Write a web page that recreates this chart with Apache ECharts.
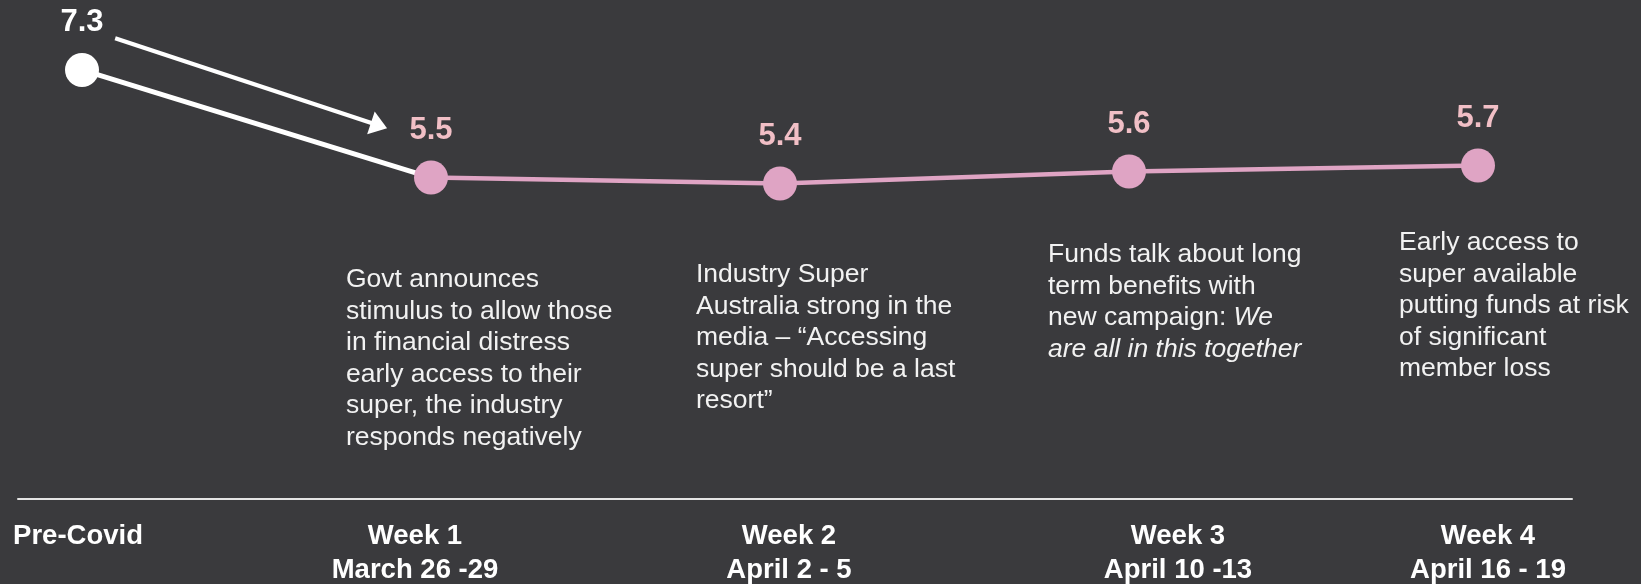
<!DOCTYPE html>
<html><head><meta charset="utf-8">
<script src="https://cdn.jsdelivr.net/npm/echarts@6/dist/echarts.min.js"></script>
<style>html,body{margin:0;padding:0;background:#3a3a3d}#c{width:1641px;height:584px}</style>
</head><body><div id="c"></div>
<script>
// ---------- data ----------
const categories = ['Pre-Covid', 'Week 1', 'Week 2', 'Week 3', 'Week 4'];
const dateRanges = ['', 'March 26 -29', 'April 2 - 5', 'April 10 -13', 'April 16 - 19'];
const scores = [7.3, 5.5, 5.4, 5.6, 5.7];
const notes = [
  '',
  'Govt announces\nstimulus to allow those\nin financial distress\nearly access to their\nsuper, the industry\nresponds negatively',
  'Industry Super\nAustralia strong in the\nmedia \u2013 \u201cAccessing\nsuper should be a last\nresort\u201d',
  'Funds talk about long\nterm benefits with\nnew campaign: {i|We}\n{i|are all in this together}',
  'Early access to\nsuper available\nputting funds at risk\nof significant\nmember loss'
];

// ---------- styles / layout ----------
const BG = '#3a3a3d';
const PINK = '#dfa4c4';
const PINK_LABEL = '#f1bfc6';
const WHITE = '#ffffff';
const FONT = 'Liberation Sans, Arial, sans-serif';
const labelNudge = [-4, -16, 9, 49, 10];   // horizontal shift of axis labels
const noteDx = [0, -85, -84, -81, -79];     // note left edge relative to its point
const noteTop = [0, 264, 259, 239, 227];
const NOTE_LH = 31.5;
const NOTE_FS = 26.5;
const arrowFrom = [0.095, 7.83];            // annotation arrow, in data space
const arrowTo = [0.851, 6.37];

const baseData = scores.map((v, i) => {
  if (i === 0) return { value: v };
  if (i === 1) return { value: v, symbol: 'none', label: { show: false } };
  return '-';
});
const weekData = scores.map((v, i) => (i >= 1 ? v : '-'));

const rich = {};
categories.forEach((c, i) => {
  const d = labelNudge[i];
  rich['n' + i] = {
    fontFamily: FONT, fontSize: 27.5, fontWeight: 'bold', color: WHITE, lineHeight: 34,
    padding: [0, d < 0 ? -2 * d : 0, 0, d > 0 ? 2 * d : 0]
  };
});

const chart = echarts.init(document.getElementById('c'), null, { renderer: 'canvas' });
chart.setOption({
  backgroundColor: BG,
  animation: false,
  grid: [
    { left: 82, right: 163, top: 28.1, bottom: 376.6 },
    { left: 18, right: 69, top: 490, bottom: 85 }
  ],
  xAxis: [
    {
      type: 'category', gridIndex: 0, data: categories, boundaryGap: false,
      offset: 291.6,
      axisLine: { show: false }, axisTick: { show: false }, splitLine: { show: false },
      axisLabel: {
        interval: 0, margin: 20,
        formatter: (v, i) => {
          const k = 'n' + i;
          return dateRanges[i] ? `{${k}|${v}}\n{${k}|${dateRanges[i]}}` : `{${k}|${v}}`;
        },
        rich: rich
      }
    },
    { type: 'value', gridIndex: 0, min: 0, max: 4, show: false },
    {
      type: 'value', gridIndex: 1, min: 0, max: 1,
      axisLine: { show: true, lineStyle: { color: '#e4e4e4', width: 2 } },
      axisTick: { show: false }, axisLabel: { show: false }, splitLine: { show: false }
    }
  ],
  yAxis: [
    { type: 'value', gridIndex: 0, min: 5, max: 8, show: false },
    { type: 'value', gridIndex: 1, min: 0, max: 1, show: false }
  ],
  series: [
    {
      name: 'arrow', type: 'line', xAxisIndex: 1, yAxisIndex: 0,
      data: [arrowFrom, arrowTo], symbol: 'none', lineStyle: { opacity: 0 }, silent: true,
      markLine: {
        silent: true, animation: false,
        symbol: ['none', 'triangle'],
        symbolSize: 20,
        label: { show: false },
        lineStyle: { color: WHITE, width: 4, type: 'solid' },
        emphasis: { disabled: true },
        data: [[
          { coord: arrowFrom, symbol: 'none' },
          { coord: arrowTo, symbol: 'triangle', symbolSize: [24, 17] }
        ]]
      }
    },
    {
      name: 'Pre-Covid', type: 'line', xAxisIndex: 0, yAxisIndex: 0,
      data: baseData, symbol: 'circle', symbolSize: 34, showAllSymbol: true,
      itemStyle: { color: WHITE }, lineStyle: { color: WHITE, width: 5 },
      label: { show: true, position: 'top', distance: 14.5, color: WHITE, fontFamily: FONT, fontSize: 31, fontWeight: 'bold' },
      z: 2
    },
    {
      name: 'Weekly', type: 'line', xAxisIndex: 0, yAxisIndex: 0,
      data: weekData, symbol: 'circle', symbolSize: 34, showAllSymbol: true,
      itemStyle: { color: PINK }, lineStyle: { color: PINK, width: 4.5 },
      label: { show: true, position: 'top', distance: 14.5, color: PINK_LABEL, fontFamily: FONT, fontSize: 31, fontWeight: 'bold' },
      z: 3
    }
  ]
});

const graphics = [];
notes.forEach((t, i) => {
  if (!t) return;
  const px = chart.convertToPixel({ xAxisIndex: 0 }, i);
  graphics.push({
    type: 'text', left: px + noteDx[i], top: noteTop[i], silent: true,
    style: {
      text: t, fill: '#f2f2f2', fontFamily: FONT, fontSize: NOTE_FS, lineHeight: NOTE_LH,
      rich: { i: { fontStyle: 'italic', fontFamily: FONT, fontSize: NOTE_FS, lineHeight: NOTE_LH, fill: '#f2f2f2' } }
    }
  });
});
chart.setOption({ graphic: graphics });
</script>
</body></html>
